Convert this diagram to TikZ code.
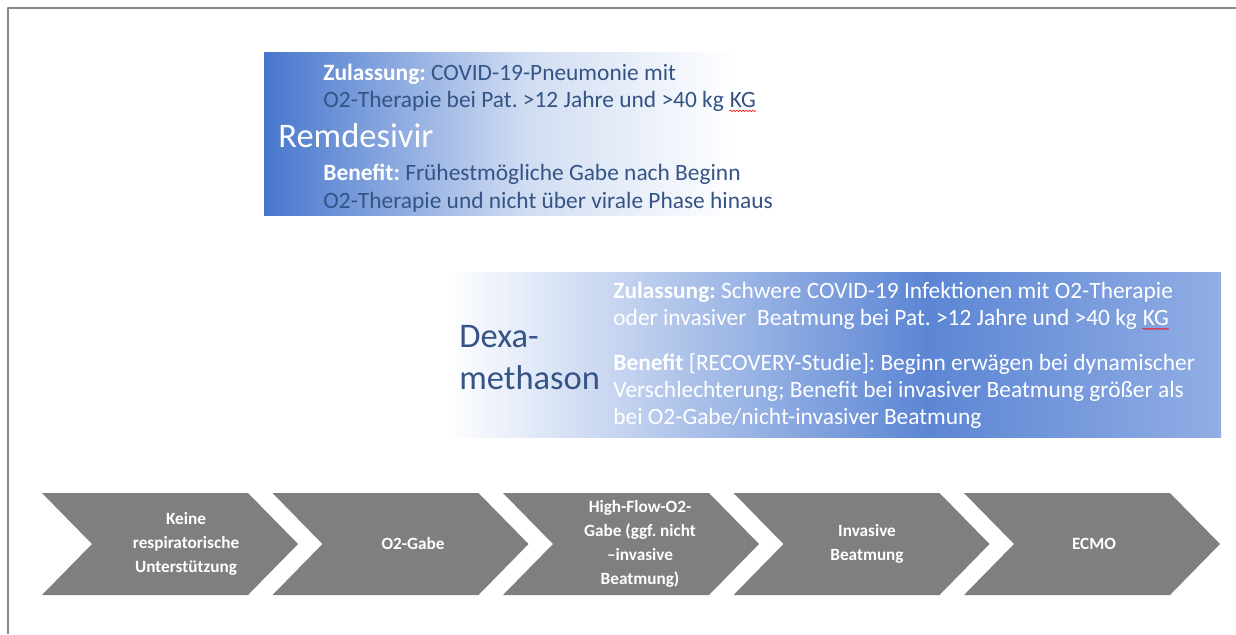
\documentclass[tikz,border=0pt]{standalone}
\usepackage{fontspec}
\setmainfont{Carlito}
\usetikzlibrary{decorations.pathmorphing}
\definecolor{remblue}{RGB}{70,118,204}
\definecolor{dexblue}{RGB}{92,134,212}
\definecolor{dexlight}{RGB}{145,173,228}
\definecolor{txtblue}{RGB}{52,84,134}
\definecolor{phasegray}{RGB}{127,127,127}
\definecolor{framegray}{RGB}{137,137,137}
\pgfdeclarehorizontalshading{remshade}{100bp}{color(0bp)=(remblue); color(25bp)=(remblue); color(50bp)=(remblue!25!white); color(70bp)=(white); color(100bp)=(white)}
\pgfdeclarehorizontalshading{dexshade}{100bp}{color(0bp)=(white); color(25bp)=(white); color(56bp)=(dexblue); color(75bp)=(dexlight); color(100bp)=(dexlight)}
\newcommand\redwave[1]{\tikz[baseline=(w.base)]{\node[inner sep=0pt] (w) {#1};
  \draw[red, line width=0.3pt, decorate, decoration={snake, amplitude=0.35pt, segment length=1.6pt}] ([yshift=-1.2pt]w.south west) -- ([yshift=-1.2pt]w.south east);}}
\frenchspacing
\begin{document}
\begin{tikzpicture}[x=0.5pt, y=-0.5pt, line join=round,
  bodytxt/.style={inner sep=0pt, align=left, font=\fontsize{11.7}{13.7}\selectfont},
  bigtxt/.style={inner sep=0pt, align=left, font=\fontsize{17.25}{21}\selectfont},
  phasetxt/.style={inner sep=0pt, align=center, text=white, font=\fontsize{8.6}{12}\selectfont\bfseries}]
\useasboundingbox (0,0) rectangle (1236,634);
\draw[framegray, line width=1pt] (8,634) -- (8,8) -- (1236,8);
% Remdesivir
\shade[shading=remshade] (264,52) rectangle (788,215);
\node[bigtxt, text=white, anchor=base west] (remname) at (278,147) {Remdesivir};
\node[bodytxt, text=txtblue, anchor=west] (remzul) at (323,88) {\textbf{\color{white}Zulassung:} COVID-19-Pneumonie mit\\O2-Therapie bei Pat. >12 Jahre und >40 kg \redwave{KG}};
\node[bodytxt, text=txtblue, anchor=west] (remben) at (323,188) {\textbf{\color{white}Benefit:} Frühestmögliche Gabe nach Beginn\\O2-Therapie und nicht über virale Phase hinaus};
% Dexamethason
\shade[shading=dexshade] (447,272) rectangle (1221,437);
\node[bigtxt, text=txtblue, anchor=west] (dexname) at (459,358) {Dexa-\\methason};
\node[bodytxt, text=white, anchor=west] (dexzul) at (613,306) {\textbf{Zulassung:} Schwere COVID-19 Infektionen mit O2-Therapie\\oder invasiver\ \ Beatmung bei Pat. >12 Jahre und >40 kg \redwave{KG}};
\node[bodytxt, text=white, anchor=west] (dexben) at (613,391) {\textbf{Benefit} [RECOVERY-Studie]: Beginn erwägen bei dynamischer\\Verschlechterung; Benefit bei invasiver Beatmung größer als\\bei O2-Gabe/nicht-invasiver Beatmung};
% Phasen
\foreach \i/\txt [evaluate=\i as \xl using 42+230.5*\i, evaluate=\i as \xc using 186+227*\i] in
  {0/{Keine\\respiratorische\\Unterstützung}, 1/{O2-Gabe}, 2/{High-Flow-O2-\\Gabe (ggf. nicht\\–invasive\\Beatmung)}, 3/{Invasive\\Beatmung}, 4/{ECMO}}
{
  \fill[phasegray] (\xl,493) -- ++(206,0) -- ++(50,51) -- ++(-50,51) -- ++(-206,0) -- ++(50,-51) -- cycle;
  \node[phasetxt] (phase\i) at (\xc,544) {\txt};
}
\end{tikzpicture}
\end{document}
